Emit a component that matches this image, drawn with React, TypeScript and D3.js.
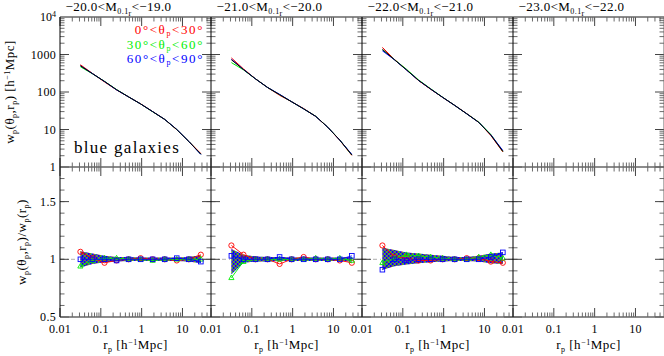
import React from "react";
import * as d3 from "d3";

// ---- data ----
const TITLES = ["\u221220.0", "\u221221.0", "\u221222.0", "\u221223.0"];
const TITLES_HI = ["\u221219.0", "\u221220.0", "\u221221.0", "\u221222.0"];
const RP = [0.0316, 0.0624, 0.123, 0.243, 0.479, 0.944, 1.86, 3.67, 7.24, 14.3, 28.2];
// overall w_p(r_p) per panel (panel 4 empty)
const WP_ALL = [
  [501, 309, 191, 115, 74, 48, 30, 18.6, 10, 4.8, 2.2],
  [724, 398, 224, 132, 85, 55, 35.5, 22.4, 11.5, 5.2, 2.1],
  [1380, 724, 389, 204, 120, 72, 44, 26.3, 15.5, 7.1, 2.6],
];
// ratio w_p(theta_p, r_p)/w_p(r_p)
const RATIO_RED = [
  [1.065, 1.01, 0.97, 0.99, 1.0, 1.01, 1.0, 1.0, 0.99, 1.0, 1.04],
  [1.12, 1.04, 1.0, 1.0, 0.96, 1.0, 1.02, 1.0, 1.0, 0.99, 0.97],
  [1.12, 1.02, 1.01, 0.99, 0.99, 1.0, 1.0, 1.01, 1.01, 0.98, 0.97],
];
const RATIO_GREEN = [
  [0.94, 0.99, 1.01, 1.01, 1.0, 1.0, 0.99, 1.0, 1.0, 1.0, 1.0],
  [0.84, 0.98, 1.0, 1.0, 1.0, 1.0, 1.0, 1.01, 1.0, 1.01, 0.99],
  [0.97, 1.01, 1.04, 1.03, 1.02, 1.01, 1.0, 1.0, 1.02, 1.04, 1.01],
];
const RATIO_BLUE = [
  [1.0, 1.0, 1.0, 0.99, 1.0, 1.0, 1.0, 1.0, 1.01, 1.0, 0.98],
  [1.03, 1.0, 1.0, 1.0, 1.02, 1.0, 1.0, 1.0, 1.0, 1.0, 1.03],
  [0.91, 1.0, 0.99, 1.0, 1.0, 1.0, 1.0, 1.0, 1.0, 1.02, 1.06],
];
const BAND_HI = [
  [1.07, 1.05, 1.03, 1.02, 1.02, 1.015, 1.015, 1.015, 1.015, 1.02, 1.035],
  [1.09, 1.04, 1.025, 1.02, 1.02, 1.015, 1.015, 1.015, 1.015, 1.015, 1.02],
  [1.1, 1.08, 1.06, 1.05, 1.04, 1.03, 1.02, 1.02, 1.03, 1.05, 1.06],
];
const BAND_LO = [
  [0.93, 0.96, 0.975, 0.98, 0.985, 0.985, 0.985, 0.985, 0.985, 0.98, 0.965],
  [0.87, 0.97, 0.98, 0.98, 0.985, 0.985, 0.985, 0.985, 0.985, 0.985, 0.98],
  [0.91, 0.94, 0.955, 0.965, 0.975, 0.98, 0.985, 0.985, 0.98, 0.965, 0.96],
];
const X_TICKS = [0.01, 0.1, 1, 10];
const X_TICK_LABELS = ["0.01", "0.1", "1", "10"];
const YTOP_TICKS = [1, 10, 100, 1000];
const YBOT_TICKS = [0.5, 1, 1.5];
const YBOT_LABELS = ["0.5", "1", "1.5"];
const LEGEND = [
  { lo: "0\u00b0", hi: "30\u00b0", color: "#ff0000" },
  { lo: "30\u00b0", hi: "60\u00b0", color: "#00ee00" },
  { lo: "60\u00b0", hi: "90\u00b0", color: "#0000ff" },
];

const RED = "#ff0000";
const GREEN = "#00ee00";
const BLUE = "#0000ff";
const FONT = "Liberation Serif";

const LEFT = 60;
const PW = 151;
const TOP = 17;
const MID = 167;
const BOT = 317;

export default function App() {
  const x = d3.scaleLog().domain([0.01, 50]).range([0, PW]);
  const yTop = d3.scaleLog().domain([1, 1e4]).range([MID, TOP]);
  const yBot = d3.scaleLinear().domain([0.5, 1.8]).range([BOT, MID]);

  const xMinor: number[] = [];
  [0.01, 0.1, 1, 10].forEach((d) => {
    for (let k = 2; k <= 9; k++) if (d * k < 50) xMinor.push(d * k);
  });
  const yMinorTop: number[] = [];
  [1, 10, 100, 1000].forEach((d) => {
    for (let k = 2; k <= 9; k++) yMinorTop.push(d * k);
  });
  const yMinorBot: number[] = d3.range(6, 18).map((v) => v / 10);

  const MAJ = 9;
  const MIN = 4.5;
  const tickColor = "#444";

  const lineTop = (vals: number[]) =>
    d3
      .line<number>()
      .x((_, i) => x(RP[i]))
      .y((v) => yTop(v))(vals) as string;
  const lineBot = (vals: number[]) =>
    d3
      .line<number>()
      .x((_, i) => x(RP[i]))
      .y((v) => yBot(v))(vals) as string;
  const areaBot = (hi: number[], lo: number[]) =>
    d3
      .area<number>()
      .x((_, i) => x(RP[i]))
      .y0((_, i) => yBot(lo[i]))
      .y1((v) => yBot(v))(hi) as string;

  const panels = [0, 1, 2, 3];

  const ratioSets = [
    { data: RATIO_RED, color: RED, marker: "circle", pat: "hr" },
    { data: RATIO_GREEN, color: GREEN, marker: "tri", pat: "hg" },
    { data: RATIO_BLUE, color: BLUE, marker: "square", pat: "hb" },
  ];

  const marker = (type: string, cx: number, cy: number, color: string, key: string) => {
    if (type === "circle")
      return <circle key={key} cx={cx} cy={cy} r={2.6} fill="none" stroke={color} strokeWidth={0.9} />;
    if (type === "square")
      return (
        <rect key={key} x={cx - 2.3} y={cy - 2.3} width={4.6} height={4.6} fill="none" stroke={color} strokeWidth={0.9} />
      );
    return (
      <path
        key={key}
        d={`M${cx},${cy - 2.8}L${cx + 2.6},${cy + 1.8}L${cx - 2.6},${cy + 1.8}Z`}
        fill="none"
        stroke={color}
        strokeWidth={0.9}
      />
    );
  };

  return (
    <svg width={664} height={356} style={{ position: "absolute", left: 0, top: 0, fontFamily: FONT }}>
      <defs>
        {[
          ["hr", RED, 0, 0.8],
          ["hg", GREEN, 1.3, 0.8],
          ["hb", BLUE, 2.6, 1],
        ].map(([id, c, off, sw]) => (
          <pattern
            key={id as string}
            id={id as string}
            patternUnits="userSpaceOnUse"
            width={4}
            height={4}
            x={off as number}
            y={0}
          >
            <path d="M0,0L4,4M4,0L0,4" stroke={c as string} strokeWidth={sw as number} />
          </pattern>
        ))}
        {panels.map((p) => (
          <clipPath key={p} id={`clip${p}`}>
            <rect x={0} y={TOP} width={PW} height={BOT - TOP} />
          </clipPath>
        ))}
      </defs>
      <rect x={0} y={0} width={664} height={356} fill="#fff" />

      {panels.map((p) => {
        const px = LEFT + p * PW;
        return (
          <g key={p} transform={`translate(${px},0)`}>
            {/* title */}
            <text x={PW / 2 - 17} y={11} fontSize={13} textAnchor="middle" letterSpacing={0.4} fill="#000">
              {TITLES[p]}&lt;M
              <tspan fontSize={8} dy={3}>
                0.1
              </tspan>
              <tspan fontSize={8} dy={1.5}>
                r
              </tspan>
              <tspan dy={-4.5}>&lt;{TITLES_HI[p]}</tspan>
            </text>

            <g clipPath={`url(#clip${p})`}>
              {/* top curves */}
              {p < 3 &&
                ratioSets.map((s) => (
                  <path
                    key={s.color}
                    d={lineTop(WP_ALL[p].map((w, i) => w * s.data[p][i]))}
                    fill="none"
                    stroke={s.color}
                    strokeWidth={1}
                  />
                ))}
              {p < 3 && <path d={lineTop(WP_ALL[p])} fill="none" stroke="#000" strokeWidth={1} />}

              {/* bottom: reference line at 1 */}
              {p < 3 && (
                <line
                  x1={0}
                  x2={PW}
                  y1={yBot(1)}
                  y2={yBot(1)}
                  stroke="#999"
                  strokeWidth={0.8}
                  strokeDasharray="4,3,1,3"
                />
              )}
              {p < 3 &&
                ratioSets.map((s) => (
                  <path key={s.pat} d={areaBot(BAND_HI[p], BAND_LO[p])} fill={`url(#${s.pat})`} stroke="none" />
                ))}
              {p < 3 &&
                ratioSets.map((s) => (
                  <g key={s.color + "l"}>
                    <path d={lineBot(s.data[p])} fill="none" stroke={s.color} strokeWidth={0.9} />
                    {s.data[p].map((v, i) => marker(s.marker, x(RP[i]), yBot(v), s.color, `${s.color}${i}`))}
                  </g>
                ))}
            </g>

            {/* x ticks */}
            {X_TICKS.map((t) => (
              <g key={"xm" + t} stroke={tickColor} strokeWidth={1}>
                <line x1={x(t)} x2={x(t)} y1={TOP} y2={TOP + MAJ} />
                <line x1={x(t)} x2={x(t)} y1={MID - MAJ} y2={MID + MAJ} />
                <line x1={x(t)} x2={x(t)} y1={BOT - MAJ} y2={BOT} />
              </g>
            ))}
            {xMinor.map((t) => (
              <g key={"xn" + t} stroke={tickColor} strokeWidth={0.8}>
                <line x1={x(t)} x2={x(t)} y1={TOP} y2={TOP + MIN} />
                <line x1={x(t)} x2={x(t)} y1={MID - MIN} y2={MID + MIN} />
                <line x1={x(t)} x2={x(t)} y1={BOT - MIN} y2={BOT} />
              </g>
            ))}
            {/* y ticks */}
            {YTOP_TICKS.map((t) => (
              <g key={"ytm" + t} stroke={tickColor} strokeWidth={1}>
                <line x1={0} x2={MAJ} y1={yTop(t)} y2={yTop(t)} />
                <line x1={PW - MAJ} x2={PW} y1={yTop(t)} y2={yTop(t)} />
              </g>
            ))}
            {yMinorTop.map((t) => (
              <g key={"ytn" + t} stroke={tickColor} strokeWidth={0.8}>
                <line x1={0} x2={MIN} y1={yTop(t)} y2={yTop(t)} />
                <line x1={PW - MIN} x2={PW} y1={yTop(t)} y2={yTop(t)} />
              </g>
            ))}
            {YBOT_TICKS.map((t) => (
              <g key={"ybm" + t} stroke={tickColor} strokeWidth={1}>
                <line x1={0} x2={MAJ} y1={yBot(t)} y2={yBot(t)} />
                <line x1={PW - MAJ} x2={PW} y1={yBot(t)} y2={yBot(t)} />
              </g>
            ))}
            {yMinorBot.map((t) => (
              <g key={"ybn" + t} stroke={tickColor} strokeWidth={0.8}>
                <line x1={0} x2={MIN} y1={yBot(t)} y2={yBot(t)} />
                <line x1={PW - MIN} x2={PW} y1={yBot(t)} y2={yBot(t)} />
              </g>
            ))}

            {/* x tick labels */}
            {X_TICKS.map((t, i) => (
              <text key={"xl" + t} x={x(t)} y={333} fontSize={12} textAnchor="middle" fill="#000" letterSpacing={0.3}>
                {X_TICK_LABELS[i]}
              </text>
            ))}
            {/* x axis label */}
            <text x={PW / 2} y={349} fontSize={13} textAnchor="middle" fill="#000" letterSpacing={0.5}>
              r
              <tspan fontSize={8} dy={3}>
                p
              </tspan>
              <tspan dy={-3}> [h</tspan>
              <tspan fontSize={8} dy={-4}>
                {"\u22121"}
              </tspan>
              <tspan dy={4}>Mpc]</tspan>
            </text>
          </g>
        );
      })}

      {/* frames */}
      <g>
        {[TOP, MID, BOT].map((y) => (
          <line key={"h" + y} x1={LEFT} x2={LEFT + 4 * PW} y1={y} y2={y} stroke="#666" strokeWidth={1.3} />
        ))}
        {[0, 1, 2, 3, 4].map((i) => (
          <line
            key={"v" + i}
            x1={LEFT + i * PW}
            x2={LEFT + i * PW}
            y1={TOP}
            y2={BOT}
            stroke={i === 4 ? "#666" : "#000"}
            strokeWidth={1}
          />
        ))}
      </g>

      {/* y tick labels */}
      {YTOP_TICKS.map((t) => (
        <text key={"ytl" + t} x={56} y={yTop(t) + 4} fontSize={12} textAnchor="end" fill="#000" letterSpacing={0.3}>
          {t}
        </text>
      ))}
      <text x={56} y={yTop(1e4) + 4} fontSize={12} textAnchor="end" fill="#000">
        10
        <tspan fontSize={8} dy={-4}>
          4
        </tspan>
      </text>
      {YBOT_TICKS.map((t, i) => (
        <text key={"ybl" + t} x={56} y={yBot(t) + 4} fontSize={12} textAnchor="end" fill="#000" letterSpacing={0.3}>
          {YBOT_LABELS[i]}
        </text>
      ))}

      {/* legend */}
      {LEGEND.map((l, i) => (
        <text
          key={l.hi}
          x={204}
          y={34 + i * 14.5}
          fontSize={13}
          textAnchor="end"
          fill={l.color}
          letterSpacing={1.6}
        >
          {l.lo}&lt;θ
          <tspan fontSize={8} dy={2}>
            p
          </tspan>
          <tspan dy={-2}>&lt;{l.hi}</tspan>
        </text>
      ))}
      <text x={74} y={153} fontSize={17} fill="#000" letterSpacing={1.3}>
        blue galaxies
      </text>

      {/* y axis labels */}
      <text transform={`translate(14,${(TOP + MID) / 2}) rotate(-90)`} fontSize={13} textAnchor="middle" fill="#000" letterSpacing={0.5}>
        w
        <tspan fontSize={8} dy={3}>
          p
        </tspan>
        <tspan dy={-3}>(θ</tspan>
        <tspan fontSize={8} dy={3}>
          p
        </tspan>
        <tspan dy={-3}>,r</tspan>
        <tspan fontSize={8} dy={3}>
          p
        </tspan>
        <tspan dy={-3}>) [h</tspan>
        <tspan fontSize={8} dy={-4}>
          {"\u22121"}
        </tspan>
        <tspan dy={4}>Mpc]</tspan>
      </text>
      <text transform={`translate(26,${(MID + BOT) / 2}) rotate(-90)`} fontSize={13} textAnchor="middle" fill="#000" letterSpacing={0.5}>
        w
        <tspan fontSize={8} dy={3}>
          p
        </tspan>
        <tspan dy={-3}>(θ</tspan>
        <tspan fontSize={8} dy={3}>
          p
        </tspan>
        <tspan dy={-3}>,r</tspan>
        <tspan fontSize={8} dy={3}>
          p
        </tspan>
        <tspan dy={-3}>)/w</tspan>
        <tspan fontSize={8} dy={3}>
          p
        </tspan>
        <tspan dy={-3}>(r</tspan>
        <tspan fontSize={8} dy={3}>
          p
        </tspan>
        <tspan dy={-3}>)</tspan>
      </text>
    </svg>
  );
}
